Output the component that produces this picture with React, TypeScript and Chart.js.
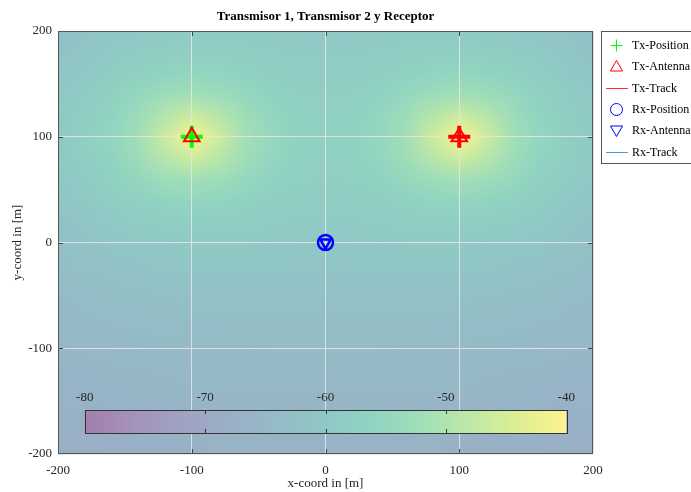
import React, { useEffect, useRef } from 'react';
import { Chart, registerables } from 'chart.js';

Chart.register(...registerables);

// ---- Axis ticks ----
const xTicks = [-200, -100, 0, 100, 200];
const yTicks = [-200, -100, 0, 100, 200];

// ---- Field grid (received power in dB) ----
const fieldX = [-200, -180, -160, -140, -120, -100, -80, -60, -40, -20, 0, 20, 40, 60, 80, 100, 120, 140, 160, 180, 200];
const fieldY = [200, 180, 160, 140, 120, 100, 80, 60, 40, 20, 0, -20, -40, -60, -80, -100, -120, -140, -160, -180, -200];
const fieldDb = [
  [-62.2, -61.4, -60.6, -60.0, -59.5, -59.2, -59.2, -59.4, -59.7, -59.9, -60.0, -59.9, -59.7, -59.4, -59.2, -59.2, -59.5, -60.0, -60.6, -61.4, -62.2],
  [-61.5, -60.5, -59.4, -58.5, -57.8, -57.5, -57.6, -58.1, -58.6, -59.0, -59.1, -59.0, -58.6, -58.1, -57.6, -57.5, -57.8, -58.5, -59.4, -60.5, -61.5],
  [-60.7, -59.5, -58.2, -56.8, -55.7, -55.2, -55.6, -56.4, -57.4, -58.1, -58.3, -58.1, -57.4, -56.4, -55.6, -55.2, -55.7, -56.8, -58.2, -59.5, -60.7],
  [-60.1, -58.6, -56.8, -54.8, -52.8, -51.9, -52.8, -54.6, -56.2, -57.3, -57.6, -57.3, -56.2, -54.6, -52.8, -51.9, -52.8, -54.8, -56.8, -58.6, -60.1],
  [-59.7, -58.0, -55.8, -52.9, -49.0, -46.0, -48.9, -52.7, -55.2, -56.7, -57.2, -56.7, -55.2, -52.7, -48.9, -46.0, -49.0, -52.9, -55.8, -58.0, -59.7],
  [-59.5, -57.7, -55.3, -51.9, -46.0, -40.0, -46.0, -51.8, -54.8, -56.5, -57.0, -56.5, -54.8, -51.8, -46.0, -40.0, -46.0, -51.9, -55.3, -57.7, -59.5],
  [-59.7, -58.0, -55.8, -52.9, -49.0, -46.0, -48.9, -52.7, -55.2, -56.7, -57.2, -56.7, -55.2, -52.7, -48.9, -46.0, -49.0, -52.9, -55.8, -58.0, -59.7],
  [-60.1, -58.6, -56.8, -54.8, -52.8, -51.9, -52.8, -54.6, -56.2, -57.3, -57.6, -57.3, -56.2, -54.6, -52.8, -51.9, -52.8, -54.8, -56.8, -58.6, -60.1],
  [-60.7, -59.5, -58.2, -56.8, -55.7, -55.2, -55.6, -56.4, -57.4, -58.1, -58.3, -58.1, -57.4, -56.4, -55.6, -55.2, -55.7, -56.8, -58.2, -59.5, -60.7],
  [-61.5, -60.5, -59.4, -58.5, -57.8, -57.5, -57.6, -58.1, -58.6, -59.0, -59.1, -59.0, -58.6, -58.1, -57.6, -57.5, -57.8, -58.5, -59.4, -60.5, -61.5],
  [-62.2, -61.4, -60.6, -60.0, -59.5, -59.2, -59.2, -59.4, -59.7, -59.9, -60.0, -59.9, -59.7, -59.4, -59.2, -59.2, -59.5, -60.0, -60.6, -61.4, -62.2],
  [-63.0, -62.3, -61.7, -61.2, -60.8, -60.6, -60.5, -60.6, -60.7, -60.8, -60.9, -60.8, -60.7, -60.6, -60.5, -60.6, -60.8, -61.2, -61.7, -62.3, -63.0],
  [-63.7, -63.1, -62.6, -62.2, -61.9, -61.7, -61.6, -61.6, -61.6, -61.7, -61.7, -61.7, -61.6, -61.6, -61.6, -61.7, -61.9, -62.2, -62.6, -63.1, -63.7],
  [-64.4, -63.9, -63.5, -63.1, -62.8, -62.7, -62.5, -62.5, -62.5, -62.5, -62.5, -62.5, -62.5, -62.5, -62.5, -62.7, -62.8, -63.1, -63.5, -63.9, -64.4],
  [-65.0, -64.6, -64.2, -63.9, -63.7, -63.5, -63.4, -63.3, -63.3, -63.3, -63.3, -63.3, -63.3, -63.3, -63.4, -63.5, -63.7, -63.9, -64.2, -64.6, -65.0],
  [-65.6, -65.2, -64.9, -64.7, -64.4, -64.3, -64.1, -64.1, -64.0, -64.0, -64.0, -64.0, -64.0, -64.1, -64.1, -64.3, -64.4, -64.7, -64.9, -65.2, -65.6],
  [-66.1, -65.8, -65.6, -65.3, -65.1, -64.9, -64.8, -64.8, -64.7, -64.7, -64.7, -64.7, -64.7, -64.8, -64.8, -64.9, -65.1, -65.3, -65.6, -65.8, -66.1],
  [-66.7, -66.4, -66.1, -65.9, -65.8, -65.6, -65.5, -65.4, -65.3, -65.3, -65.3, -65.3, -65.3, -65.4, -65.5, -65.6, -65.8, -65.9, -66.1, -66.4, -66.7],
  [-67.2, -66.9, -66.7, -66.5, -66.3, -66.2, -66.1, -66.0, -65.9, -65.9, -65.9, -65.9, -65.9, -66.0, -66.1, -66.2, -66.3, -66.5, -66.7, -66.9, -67.2],
  [-67.6, -67.4, -67.2, -67.0, -66.9, -66.7, -66.6, -66.6, -66.5, -66.5, -66.5, -66.5, -66.5, -66.6, -66.6, -66.7, -66.9, -67.0, -67.2, -67.4, -67.6],
  [-68.1, -67.9, -67.7, -67.5, -67.4, -67.3, -67.1, -67.1, -67.0, -67.0, -67.0, -67.0, -67.0, -67.1, -67.1, -67.3, -67.4, -67.5, -67.7, -67.9, -68.1],
];

// ---- Colorbar ----
const colorbarTicks = [-80, -70, -60, -50, -40];

// ---- Markers ----
const txPositions = [{ x: -100, y: 100 }, { x: 100, y: 100 }];
const txPositionColors = ['#00ff00', '#ff0000'];
const txTrack = [{ x: -100, y: 100 }, { x: NaN, y: NaN }, { x: 100, y: 100 }];
const rxPositions = [{ x: 0, y: 0 }];
const rxTrack = [{ x: 0, y: 0 }];

const legendLabels = ['Tx-Position', 'Tx-Antenna', 'Tx-Track', 'Rx-Position', 'Rx-Antenna', 'Rx-Track'];

const titleText = 'Transmisor 1, Transmisor 2 y Receptor';
const xTitle = 'x-coord in [m]';
const yTitle = 'y-coord in [m]';

// ---- Styling ----
const SERIF = "'Liberation Serif', 'Times New Roman', serif";
const TEXT_COLOR = '#262626';
const viridisStops = ['#440154', '#482475', '#414487', '#355f8d', '#2a788e', '#21918c', '#22a884', '#44bf70', '#7ad151', '#bddf26', '#fde725'];
const ALPHA = 0.5;

function hexToRgb(h: string): number[] {
  return [parseInt(h.slice(1, 3), 16), parseInt(h.slice(3, 5), 16), parseInt(h.slice(5, 7), 16)];
}
const stopRgb = viridisStops.map(hexToRgb);

function cmap(v: number): number[] {
  const lo = colorbarTicks[0];
  const hi = colorbarTicks[colorbarTicks.length - 1];
  let t = (v - lo) / (hi - lo);
  t = Math.max(0, Math.min(1, t));
  const f = t * (stopRgb.length - 1);
  const i = Math.min(stopRgb.length - 2, Math.floor(f));
  const fr = f - i;
  const a = stopRgb[i];
  const b = stopRgb[i + 1];
  return [0, 1, 2].map((k) => {
    const c = a[k] + (b[k] - a[k]) * fr;
    return Math.round(c * ALPHA + 255 * (1 - ALPHA));
  });
}

const heatmapPlugin = {
  id: 'heatmap',
  beforeDraw(chart: any) {
    const { ctx, chartArea, scales } = chart;
    const xs = scales.x;
    const ys = scales.y;
    const nx = fieldX.length;
    const ny = fieldY.length;
    const off = document.createElement('canvas');
    off.width = nx;
    off.height = ny;
    const octx = off.getContext('2d')!;
    const img = octx.createImageData(nx, ny);
    for (let r = 0; r < ny; r++) {
      for (let c = 0; c < nx; c++) {
        const col = cmap(fieldDb[r][c]);
        const idx = (r * nx + c) * 4;
        img.data[idx] = col[0];
        img.data[idx + 1] = col[1];
        img.data[idx + 2] = col[2];
        img.data[idx + 3] = 255;
      }
    }
    octx.putImageData(img, 0, 0);
    const hx = (fieldX[1] - fieldX[0]) / 2;
    const hy = (fieldY[0] - fieldY[1]) / 2;
    const left = xs.getPixelForValue(fieldX[0] - hx);
    const right = xs.getPixelForValue(fieldX[nx - 1] + hx);
    const top = ys.getPixelForValue(fieldY[0] + hy);
    const bottom = ys.getPixelForValue(fieldY[ny - 1] - hy);
    ctx.save();
    ctx.beginPath();
    ctx.rect(chartArea.left, chartArea.top, chartArea.right - chartArea.left, chartArea.bottom - chartArea.top);
    ctx.clip();
    ctx.imageSmoothingEnabled = true;
    ctx.imageSmoothingQuality = 'low';
    ctx.drawImage(off, left, top, right - left, bottom - top);
    ctx.restore();
  },
};

function drawTriangle(ctx: CanvasRenderingContext2D, x: number, y: number, r: number, down: boolean) {
  const s = down ? -1 : 1;
  ctx.beginPath();
  ctx.moveTo(x, y - s * r);
  ctx.lineTo(x + r * Math.sin((2 * Math.PI) / 3), y + s * r * 0.5);
  ctx.lineTo(x - r * Math.sin((2 * Math.PI) / 3), y + s * r * 0.5);
  ctx.closePath();
  ctx.stroke();
}

const overlayPlugin = {
  id: 'overlay',
  afterDraw(chart: any) {
    const { ctx, chartArea, scales } = chart;
    const xs = scales.x;
    const ys = scales.y;
    const { left, right, top, bottom } = chartArea;
    ctx.save();

    // inward tick marks
    ctx.strokeStyle = '#444444';
    ctx.lineWidth = 1;
    xTicks.slice(1, -1).forEach((v) => {
      const px = Math.round(xs.getPixelForValue(v)) + 0.5;
      ctx.beginPath();
      ctx.moveTo(px, bottom);
      ctx.lineTo(px, bottom - 5);
      ctx.moveTo(px, top);
      ctx.lineTo(px, top + 5);
      ctx.stroke();
    });
    yTicks.slice(1, -1).forEach((v) => {
      const py = Math.round(ys.getPixelForValue(v)) + 0.5;
      ctx.beginPath();
      ctx.moveTo(left, py);
      ctx.lineTo(left + 5, py);
      ctx.moveTo(right, py);
      ctx.lineTo(right - 5, py);
      ctx.stroke();
    });

    // box
    ctx.strokeStyle = '#555555';
    ctx.strokeRect(Math.round(left) + 0.5, Math.round(top) + 0.5, Math.round(right - left) - 1, Math.round(bottom - top) - 1);

    // colorbar (inside axes, near the bottom)
    const cbL = xs.getPixelForValue(-180);
    const cbR = xs.getPixelForValue(180);
    const cbT = Math.round(ys.getPixelForValue(-158));
    const cbB = Math.round(ys.getPixelForValue(-180));
    const lo = colorbarTicks[0];
    const hi = colorbarTicks[colorbarTicks.length - 1];
    const grad = ctx.createLinearGradient(cbL, 0, cbR, 0);
    for (let k = 0; k <= 40; k++) {
      const c = cmap(lo + ((hi - lo) * k) / 40);
      grad.addColorStop(k / 40, `rgb(${c[0]},${c[1]},${c[2]})`);
    }
    ctx.fillStyle = grad;
    ctx.fillRect(cbL, cbT, cbR - cbL, cbB - cbT);
    ctx.strokeStyle = '#333333';
    ctx.strokeRect(Math.round(cbL) + 0.5, cbT + 0.5, Math.round(cbR - cbL), cbB - cbT);
    ctx.fillStyle = TEXT_COLOR;
    ctx.font = `13px ${SERIF}`;
    ctx.textAlign = 'center';
    ctx.textBaseline = 'middle';
    colorbarTicks.forEach((v, i) => {
      const px = cbL + ((v - lo) / (hi - lo)) * (cbR - cbL);
      if (i > 0 && i < colorbarTicks.length - 1) {
        const pxr = Math.round(px) + 0.5;
        ctx.beginPath();
        ctx.moveTo(pxr, cbT);
        ctx.lineTo(pxr, cbT + 4);
        ctx.moveTo(pxr, cbB);
        ctx.lineTo(pxr, cbB - 4);
        ctx.stroke();
      }
      ctx.fillText(String(v), px, cbT - 12);
    });

    // title
    ctx.font = `bold 13px ${SERIF}`;
    ctx.fillStyle = '#000000';
    ctx.fillText(titleText, (left + right) / 2, 17);

    // axis titles
    ctx.font = `13px ${SERIF}`;
    ctx.fillStyle = TEXT_COLOR;
    ctx.fillText(xTitle, (left + right) / 2, 484);
    ctx.save();
    ctx.translate(18, (top + bottom) / 2);
    ctx.rotate(-Math.PI / 2);
    ctx.fillText(yTitle, 0, 0);
    ctx.restore();

    // legend
    const lgL = 601.5;
    const lgT = 31.5;
    const lgH = 132;
    ctx.fillStyle = '#ffffff';
    ctx.fillRect(lgL, lgT, 120, lgH);
    ctx.strokeStyle = '#555555';
    ctx.lineWidth = 1;
    ctx.strokeRect(lgL, lgT, 120, lgH);
    const rowY = (i: number) => Math.round(45 + i * 21.3) + 0.5;
    const sx = 616.5;
    ctx.font = `12px ${SERIF}`;
    ctx.textAlign = 'left';
    legendLabels.forEach((lab, i) => {
      const y = rowY(i);
      ctx.lineWidth = 1;
      if (i === 0) {
        ctx.strokeStyle = '#00ff00';
        ctx.beginPath();
        ctx.moveTo(sx - 6, y);
        ctx.lineTo(sx + 6, y);
        ctx.moveTo(sx, y - 6);
        ctx.lineTo(sx, y + 6);
        ctx.stroke();
      } else if (i === 1) {
        ctx.strokeStyle = '#ff0000';
        drawTriangle(ctx, sx, y + 1, 7, false);
      } else if (i === 2) {
        ctx.strokeStyle = '#ff3030';
        ctx.beginPath();
        ctx.moveTo(606, y);
        ctx.lineTo(628, y);
        ctx.stroke();
      } else if (i === 3) {
        ctx.strokeStyle = '#0000ff';
        ctx.beginPath();
        ctx.arc(sx, y, 6, 0, Math.PI * 2);
        ctx.stroke();
      } else if (i === 4) {
        ctx.strokeStyle = '#0000ff';
        drawTriangle(ctx, sx, y - 1, 7, true);
      } else {
        ctx.strokeStyle = '#3f9fe6';
        ctx.beginPath();
        ctx.moveTo(606, y);
        ctx.lineTo(628, y);
        ctx.stroke();
      }
      ctx.fillStyle = '#000000';
      ctx.fillText(lab, 632, y);
    });
    ctx.restore();
  },
};

export default function App() {
  const ref = useRef<HTMLCanvasElement>(null);
  useEffect(() => {
    document.body.style.margin = '0';
    const tickFont = { family: SERIF, size: 13 };
    const chart = new Chart(ref.current as HTMLCanvasElement, {
      type: 'scatter',
      data: {
        datasets: [
          {
            label: legendLabels[0],
            data: txPositions,
            pointStyle: 'cross',
            pointRadius: 11,
            pointBorderWidth: 4,
            pointBorderColor: txPositionColors,
            pointBackgroundColor: txPositionColors,
            order: 2,
          } as any,
          {
            label: legendLabels[1],
            data: txPositions,
            pointStyle: 'triangle',
            pointRadius: 9,
            pointBorderWidth: 2,
            pointBorderColor: '#ff0000',
            pointBackgroundColor: 'rgba(0,0,0,0)',
            order: 1,
          } as any,
          {
            label: legendLabels[2],
            data: txTrack,
            showLine: true,
            spanGaps: false,
            borderColor: '#ff0000',
            borderWidth: 1,
            pointRadius: 0,
            order: 3,
          } as any,
          {
            label: legendLabels[3],
            data: rxPositions,
            pointStyle: 'circle',
            pointRadius: 7.5,
            pointBorderWidth: 2.5,
            pointBorderColor: '#0000ff',
            pointBackgroundColor: 'rgba(0,0,0,0)',
            order: 1,
          } as any,
          {
            label: legendLabels[4],
            data: rxPositions,
            pointStyle: 'triangle',
            pointRotation: 180,
            pointRadius: 6,
            pointBorderWidth: 2.5,
            pointBorderColor: '#0000ff',
            pointBackgroundColor: 'rgba(0,0,0,0)',
            order: 1,
          } as any,
          {
            label: legendLabels[5],
            data: rxTrack,
            showLine: true,
            borderColor: '#3f9fe6',
            borderWidth: 1,
            pointRadius: 0,
            order: 3,
          } as any,
        ],
      },
      options: {
        animation: false,
        responsive: false,
        maintainAspectRatio: false,
        layout: { padding: { top: 31, right: 98, left: 0, bottom: 0 } },
        plugins: {
          legend: { display: false },
          title: { display: false },
          tooltip: { enabled: false },
        },
        scales: {
          x: {
            type: 'linear',
            min: -200,
            max: 200,
            afterBuildTicks: (s: any) => {
              s.ticks = xTicks.map((v) => ({ value: v }));
            },
            ticks: {
              font: tickFont,
              color: TEXT_COLOR,
              padding: 9,
              maxRotation: 0,
              autoSkip: false,
              callback: (v: any) => String(v),
            },
            grid: { color: 'rgba(228,228,228,0.9)', lineWidth: 1, drawTicks: false },
            border: { display: false },
            afterFit: (s: any) => {
              s.height = 38;
            },
          },
          y: {
            type: 'linear',
            min: -200,
            max: 200,
            afterBuildTicks: (s: any) => {
              s.ticks = yTicks.map((v) => ({ value: v }));
            },
            ticks: {
              font: tickFont,
              color: TEXT_COLOR,
              padding: 6,
              autoSkip: false,
              callback: (v: any) => String(v),
            },
            grid: { color: 'rgba(228,228,228,0.9)', lineWidth: 1, drawTicks: false },
            border: { display: false },
            afterFit: (s: any) => {
              s.width = 58;
            },
          },
        },
      } as any,
      plugins: [heatmapPlugin, overlayPlugin],
    });
    return () => chart.destroy();
  }, []);
  return (
    <div style={{ width: 691, height: 492 }}>
      <canvas ref={ref} width={691} height={492} style={{ display: 'block', width: 691, height: 492 }} />
    </div>
  );
}
